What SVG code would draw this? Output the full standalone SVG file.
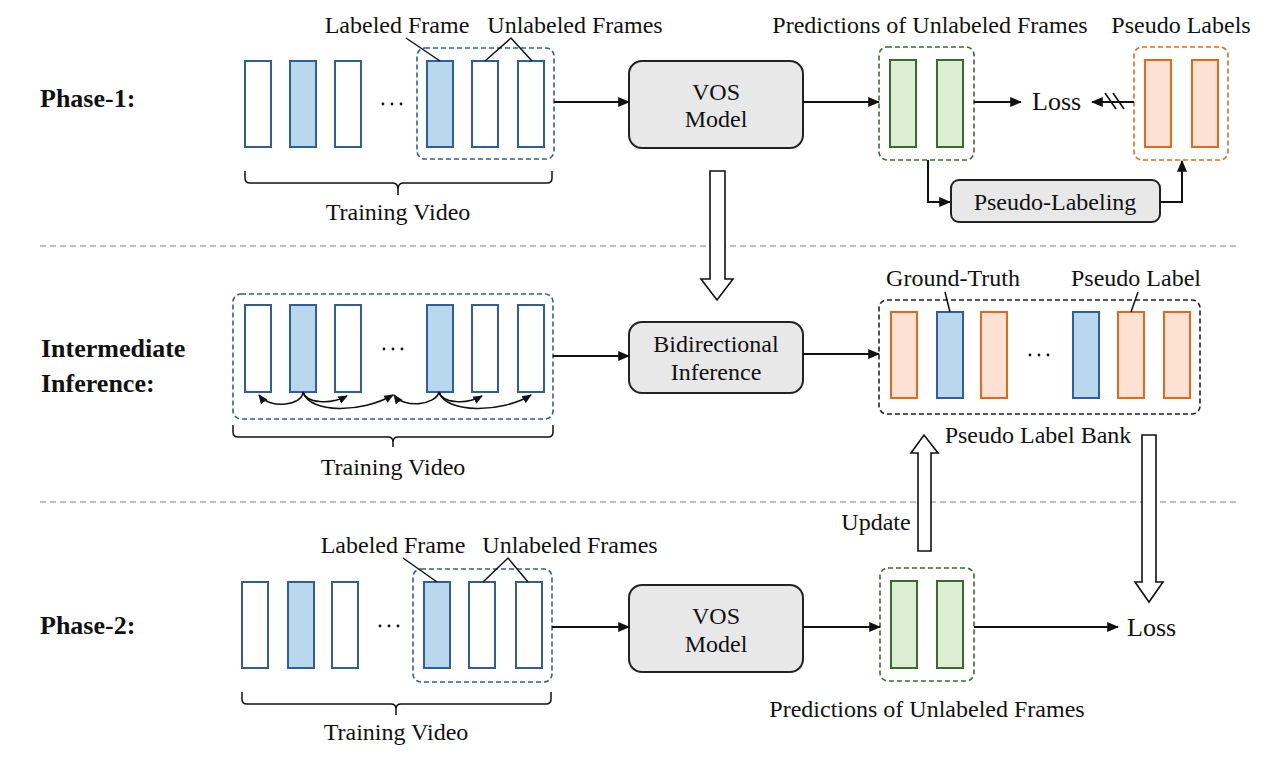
<svg xmlns="http://www.w3.org/2000/svg" width="1270" height="757" viewBox="0 0 1270 757">
<style>
text{font-family:"Liberation Serif","Times New Roman",serif;font-size:24px;fill:#111}
.lbl{font-weight:bold;font-size:26px}
.mid{text-anchor:middle}
.fb{fill:#fff;stroke:#2f5e9e;stroke-width:2}
.fbf{fill:#b9d8ee;stroke:#2f5e9e;stroke-width:2}
.fg{fill:#dcefd5;stroke:#3b6b2b;stroke-width:2}
.fo{fill:#fde2d3;stroke:#e2691c;stroke-width:2}
.db{fill:none;stroke:#2f5e9e;stroke-width:1.6;stroke-dasharray:5,3}
.dg{fill:none;stroke:#3b6b2b;stroke-width:1.6;stroke-dasharray:5,3}
.do{fill:none;stroke:#e2691c;stroke-width:1.6;stroke-dasharray:5,3}
.dk{fill:none;stroke:#222;stroke-width:1.6;stroke-dasharray:5,3}
.box{fill:#e8e8e8;stroke:#222;stroke-width:2}
.ln{fill:none;stroke:#111;stroke-width:2}
.thin{fill:none;stroke:#111;stroke-width:1.5}
.arr{fill:none;stroke:#111;stroke-width:2;marker-end:url(#ah)}
.carr{fill:none;stroke:#111;stroke-width:1.6;marker-end:url(#ahs)}
.hollow{fill:#fff;stroke:#111;stroke-width:1.6}
.sep{stroke:#aaa;stroke-width:1.3;stroke-dasharray:6,4}
.dots{fill:#111}
</style>
<defs>
<marker id="ah" viewBox="0 0 10 10" refX="9" refY="5" markerWidth="6" markerHeight="6" markerUnits="strokeWidth" orient="auto"><path d="M0,0.8 L10,5 L0,9.2 z" fill="#111"/></marker>
<marker id="ahs" viewBox="0 0 10 10" refX="9" refY="5" markerWidth="6" markerHeight="6" markerUnits="strokeWidth" orient="auto"><path d="M0,0.8 L10,5 L0,9.2 z" fill="#111"/></marker>
</defs>

<g id="separators">
<line class="sep" x1="40" y1="246" x2="1236" y2="246"/>
<line class="sep" x1="40" y1="502" x2="1236" y2="502"/>
</g>

<g id="row-labels">
<text class="lbl" x="40" y="107">Phase-1:</text>
<text class="lbl" x="41" y="357">Intermediate</text>
<text class="lbl" x="41" y="392">Inference:</text>
<text class="lbl" x="40" y="634">Phase-2:</text>
</g>

<!-- Phase 1 -->
<g id="p1-video">
<rect class="fb" x="245" y="61" width="26" height="86"/>
<rect class="fbf" x="290" y="61" width="26" height="86"/>
<rect class="fb" x="335" y="61" width="26" height="86"/>
<circle class="dots" cx="383" cy="104" r="1.4"/><circle class="dots" cx="392" cy="104" r="1.4"/><circle class="dots" cx="401" cy="104" r="1.4"/>
<rect class="fbf" x="427" y="61" width="26" height="86"/>
<rect class="fb" x="472" y="61" width="26" height="86"/>
<rect class="fb" x="518" y="61" width="26" height="86"/>
<rect class="db" x="417" y="48" width="137" height="111" rx="8"/>
<path class="thin" d="M245,171 V178 Q245,183 250,183 H393 Q398,183 398,190 V195 M398,190 Q398,183 403,183 H547 Q552,183 552,178 V171"/>
<text class="mid" x="397" y="33">Labeled Frame</text>
<text class="mid" x="575" y="33">Unlabeled Frames</text>
<text class="mid" x="398" y="220">Training Video</text>
<line class="thin" x1="406" y1="38" x2="440" y2="61"/>
<polyline class="thin" points="485,61 511,38 532,61"/>
</g>

<g id="p1-vos">
<rect class="box" x="629" y="61" width="174" height="87" rx="13"/>
<text class="mid" x="716" y="100">VOS</text>
<text class="mid" x="716" y="127">Model</text>
</g>

<g id="p1-pred">
<rect class="fg" x="890" y="60" width="26" height="87"/>
<rect class="fg" x="937" y="60" width="26" height="87"/>
<rect class="dg" x="879" y="47" width="95" height="113" rx="8"/>
<text class="mid" x="930" y="33">Predictions of Unlabeled Frames</text>
</g>

<g id="p1-loss">
<text x="1032" y="110" style="font-size:26px">Loss</text>
</g>

<g id="p1-pseudo">
<rect class="fo" x="1145" y="60" width="26" height="87"/>
<rect class="fo" x="1192" y="60" width="26" height="87"/>
<rect class="do" x="1134" y="47" width="94" height="113" rx="8"/>
<text class="mid" x="1181" y="33">Pseudo Labels</text>
</g>

<g id="p1-pl">
<rect class="box" x="951" y="180" width="209" height="42" rx="8"/>
<text class="mid" x="1055" y="210">Pseudo-Labeling</text>
</g>

<!-- Intermediate -->
<g id="int-video">
<rect class="db" x="233" y="294" width="320" height="125" rx="8"/>
<rect class="fb" x="245" y="305" width="26" height="87"/>
<rect class="fbf" x="290" y="305" width="26" height="87"/>
<rect class="fb" x="335" y="305" width="26" height="87"/>
<circle class="dots" cx="384" cy="349" r="1.4"/><circle class="dots" cx="393" cy="349" r="1.4"/><circle class="dots" cx="402" cy="349" r="1.4"/>
<rect class="fbf" x="427" y="305" width="26" height="87"/>
<rect class="fb" x="472" y="305" width="26" height="87"/>
<rect class="fb" x="518" y="305" width="26" height="87"/>
<path class="thin" d="M233,425 V432 Q233,437 238,437 H388 Q393,437 393,442 V447 M393,442 Q393,437 398,437 H548 Q553,437 553,432 V425"/>
<text class="mid" x="393" y="475">Training Video</text>
</g>

<g id="int-bi">
<rect class="box" x="629" y="322" width="174" height="71" rx="13"/>
<text class="mid" x="716" y="352">Bidirectional</text>
<text class="mid" x="716" y="380">Inference</text>
</g>

<g id="int-bank">
<rect class="dk" x="879" y="300" width="321" height="114" rx="8"/>
<rect class="fo" x="891" y="312" width="26" height="86"/>
<rect class="fbf" x="937" y="312" width="26" height="86"/>
<rect class="fo" x="981" y="312" width="26" height="86"/>
<circle class="dots" cx="1030" cy="355" r="1.4"/><circle class="dots" cx="1039" cy="355" r="1.4"/><circle class="dots" cx="1048" cy="355" r="1.4"/>
<rect class="fbf" x="1073" y="312" width="26" height="86"/>
<rect class="fo" x="1118" y="312" width="26" height="86"/>
<rect class="fo" x="1164" y="312" width="26" height="86"/>
<text class="mid" x="953" y="286">Ground-Truth</text>
<text class="mid" x="1136" y="286">Pseudo Label</text>
<text class="mid" x="1038" y="443">Pseudo Label Bank</text>
<line class="thin" x1="945" y1="292" x2="950" y2="312"/>
<line class="thin" x1="1138" y1="292" x2="1131" y2="312"/>
</g>

<!-- Phase 2 -->
<g id="p2-video">
<rect class="fb" x="242" y="582" width="26" height="86"/>
<rect class="fbf" x="288" y="582" width="26" height="86"/>
<rect class="fb" x="332" y="582" width="26" height="86"/>
<circle class="dots" cx="380" cy="626" r="1.4"/><circle class="dots" cx="389" cy="626" r="1.4"/><circle class="dots" cx="398" cy="626" r="1.4"/>
<rect class="fbf" x="424" y="582" width="26" height="86"/>
<rect class="fb" x="469" y="582" width="26" height="86"/>
<rect class="fb" x="516" y="582" width="26" height="86"/>
<rect class="db" x="413" y="569" width="139" height="113" rx="8"/>
<path class="thin" d="M242,692 V699 Q242,704 247,704 H391 Q396,704 396,709 V715 M396,709 Q396,704 401,704 H546 Q551,704 551,699 V692"/>
<text class="mid" x="393" y="553">Labeled Frame</text>
<text class="mid" x="570" y="553">Unlabeled Frames</text>
<text class="mid" x="396" y="740">Training Video</text>
<line class="thin" x1="403" y1="558" x2="437" y2="582"/>
<polyline class="thin" points="483,582 508,558 528,582"/>
</g>

<g id="p2-vos">
<rect class="box" x="629" y="585" width="174" height="87" rx="13"/>
<text class="mid" x="716" y="624">VOS</text>
<text class="mid" x="716" y="652">Model</text>
</g>

<g id="p2-pred">
<rect class="fg" x="891" y="581" width="26" height="87"/>
<rect class="fg" x="937" y="581" width="26" height="87"/>
<rect class="dg" x="880" y="568" width="94" height="113" rx="8"/>
<text class="mid" x="927" y="717">Predictions of Unlabeled Frames</text>
</g>

<g id="p2-loss">
<text x="1127" y="636" style="font-size:26px">Loss</text>
</g>

<g id="update-label">
<text class="mid" x="876" y="530">Update</text>
</g>

<g id="connectors">
<line class="arr" x1="554" y1="102" x2="629" y2="102"/>
<line class="arr" x1="803" y1="102" x2="879" y2="102"/>
<line class="arr" x1="974" y1="102" x2="1021" y2="102"/>
<line class="arr" x1="1134" y1="102" x2="1092" y2="102"/>
<line class="ln" x1="1105" y1="93" x2="1116" y2="109" style="stroke-width:1.6"/>
<line class="ln" x1="1113" y1="93" x2="1124" y2="109" style="stroke-width:1.6"/>
<path class="arr" d="M928,160 V202 H950"/>
<path class="arr" d="M1160,202 H1182 V161"/>
<line class="arr" x1="553" y1="356" x2="629" y2="356"/>
<line class="arr" x1="803" y1="354" x2="879" y2="354"/>
<line class="arr" x1="552" y1="627" x2="629" y2="627"/>
<line class="arr" x1="803" y1="627" x2="880" y2="627"/>
<line class="arr" x1="974" y1="627" x2="1118" y2="627"/>
<path class="carr" d="M303,392 C303,405 270,410 259,395"/>
<path class="carr" d="M303,392 C306,403 330,405 347,396"/>
<path class="carr" d="M303,392 C310,414 362,413 393,395"/>
<path class="carr" d="M439,392 C436,405 404,409 394,395"/>
<path class="carr" d="M439,392 C442,403 466,405 482,396"/>
<path class="carr" d="M439,392 C446,414 502,413 531,395"/>
<polygon class="hollow" points="710,171 725,171 725,279 733,279 717,300 701,279 710,279"/>
<polygon class="hollow" points="918,551 931,551 931,453 938,453 924,435 911,453 918,453"/>
<polygon class="hollow" points="1142,435 1156,435 1156,582 1163,582 1149,602 1135,582 1142,582"/>
</g>
</svg>
